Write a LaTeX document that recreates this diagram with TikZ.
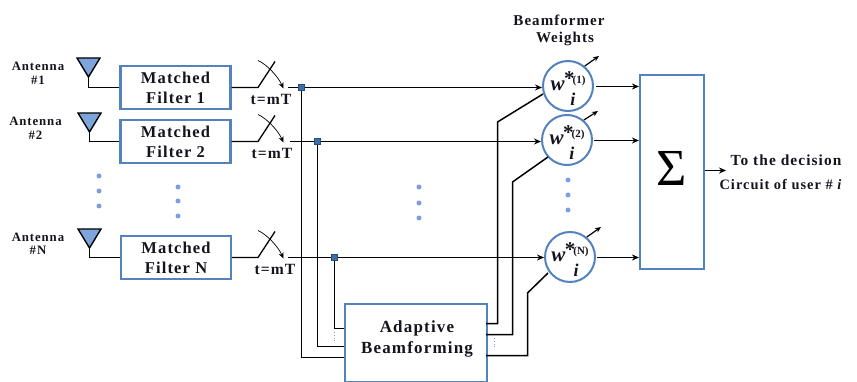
\documentclass[tikz,border=0pt]{standalone}
\usepackage{fontspec}
\setmainfont{Liberation Serif}
\newfontfamily\spaced[LetterSpace=7]{Liberation Serif}
\usetikzlibrary{arrows.meta}
\definecolor{boxblue}{RGB}{84,130,190}
\definecolor{antblue}{RGB}{125,165,220}
\definecolor{dotblue}{RGB}{125,160,220}
\definecolor{sqblue}{RGB}{60,110,170}
\definecolor{txt}{RGB}{20,20,30}
\tikzset{
  x=1pt,y=-1pt,
  wire/.style={draw=black,line width=1.5pt},
  arrowed/.style={wire,-{Stealth[length=7pt,width=6pt]}},
  thinarrow/.style={draw=black,line width=0.7pt,-{Stealth[length=6pt,width=5pt]}},
  boxnode/.style={draw=boxblue,line width=2.1pt,fill=white,minimum width=110pt,minimum height=43pt,inner sep=0pt,align=center,font=\spaced\bfseries\fontsize{16.5}{20}\selectfont,text=txt},
  weightnode/.style={circle,draw=boxblue,line width=2pt,fill=white,minimum size=50pt,inner sep=0pt,text=txt},
  sqnode/.style={rectangle,draw=sqblue!70!black,fill=sqblue,minimum size=6pt,inner sep=0pt},
  anttxt/.style={align=center,font=\spaced\bfseries\fontsize{12.8}{13.5}\selectfont,text=txt,inner sep=0pt},
  ttxt/.style={font=\spaced\bfseries\fontsize{15.6}{16}\selectfont,text=txt,inner sep=0pt},
  lbl/.style={align=center,font=\spaced\bfseries\fontsize{15}{19}\selectfont,text=txt,inner sep=0pt},
  dotmark/.style={circle,fill=dotblue,minimum size=5pt,inner sep=0pt},
  antfill/.style={draw=black,line width=1.4pt,fill=antblue,line join=miter},
}
\newcommand{\antenna}[4]{% name, x of left, y top, box
  \coordinate (#1a) at (#2,#3);
  \coordinate (#1b) at (#2+23,#3);
  \coordinate (#1c) at (#2+11.5,#3+19);
  \draw[antfill] (#1a) -- (#1b) -- (#1c) -- cycle;
  \draw[wire] (#1c) |- (#4.west);
}
\newcommand{\switchat}[3]{% name, y, source box
  \coordinate (#1in) at (258,#2);
  \coordinate (#1tip) at (275,#2-26);
  \coordinate (#1arcs) at (258,#2-27);
  \coordinate (#1arce) at (283.5,#2+1);
  \coordinate (#1c) at (267,#2-23);
  \coordinate (#1d) at (278,#2-11);
  \draw[wire,line width=1.3pt] (#3.east) -- (#1in) -- (#1tip);
  \draw[thinarrow] (#1arcs) .. controls (#1c) and (#1d) .. (#1arce);
}
\newcommand{\wsymbol}[1]{%
  \raisebox{-9.5pt}{\smash{\bfseries
    {\itshape\fontsize{21}{21}\selectfont w}\kern-0.5pt%
    \raisebox{5pt}{\fontsize{21}{21}\selectfont *}\kern-2pt%
    \raisebox{7pt}{\fontsize{11}{11}\selectfont #1}%
    \llap{\raisebox{-14.5pt}{\itshape\fontsize{18}{18}\selectfont i\kern10pt}}}}}
\newcommand{\weightsym}[4]{% name, x, y, sup
  \node[weightnode] (#1) at (#2,#3) {\wsymbol{#4}};
}
\begin{document}
\begin{tikzpicture}
\useasboundingbox (0,0) rectangle (857,382);
% matched filters
\node[boxnode] (mf1) at (175.5,87.5) {Matched\\Filter 1};
\node[boxnode] (mf2) at (175.5,141.5) {Matched\\Filter 2};
\node[boxnode] (mfn) at (176,257.5) {Matched\\Filter N};
% antennas
\antenna{ant1}{77}{58}{mf1}
\antenna{ant2}{78}{113}{mf2}
\antenna{antn}{78}{229}{mfn}
\node[anttxt] (lab1) at (38,73.5) {Antenna\\\#1};
\node[anttxt] (lab2) at (35.5,128.5) {Antenna\\\#2};
\node[anttxt] (labn) at (38,244) {Antenna\\\#N};
% switches
\switchat{sa}{87.5}{mf1}
\switchat{sb}{141.5}{mf2}
\switchat{sn}{257.5}{mfn}
\node[ttxt] (t1) at (271,99) {t=mT};
\node[ttxt] (t2) at (272,153) {t=mT};
\node[ttxt] (t3) at (275,269) {t=mT};
% adaptive
\node[boxnode,minimum width=142pt,minimum height=78pt,anchor=north west] (ab) at (344,302.5) {};
\node[lbl,font=\spaced\bfseries\fontsize{17}{21}\selectfont] (abt) at (417,338.5) {Adaptive\\Beamforming};
% weights
\weightsym{wa}{568}{86}{(1)}
\weightsym{wb}{567}{140}{(2)}
\weightsym{wn}{570}{257}{(N)}
% summation
\node[draw=boxblue,line width=2.1pt,fill=white,minimum width=64pt,minimum height=194pt,inner sep=0pt,font=\fontsize{52}{52}\selectfont,text=black] (sum) at (672,172) {\raisebox{7pt}{Σ}};
% junctions and signal lines
\coordinate (la) at (288,87.5);
\coordinate (lb) at (290,141.5);
\coordinate (ln) at (288,257.5);
\draw[arrowed] (la) -- (wa.west |- la);
\draw[arrowed] (lb) -- (wb.west |- lb);
\draw[arrowed] (ln) -- (wn.west |- ln);
\node[sqnode] (ja) at (301.5,87.5) {};
\node[sqnode] (jb) at (317.5,141.5) {};
\node[sqnode] (jn) at (334.5,257.5) {};
\coordinate (ea) at (344,357.5);
\coordinate (eb) at (344,346.5);
\coordinate (en) at (344,328.5);
\draw[wire] (ja) |- (ea);
\draw[wire] (jb) |- (eb);
\draw[wire] (jn) |- (en);
% feedback to weights
\coordinate (oa) at (486,323.5);
\coordinate (oa1) at (497.5,122);
\coordinate (oa2) at (543,94);
\coordinate (ob) at (486,334.5);
\coordinate (ob1) at (512.5,182);
\coordinate (ob2) at (548,157);
\coordinate (on) at (486,355.5);
\coordinate (on1) at (527.5,293);
\coordinate (on2) at (548,273);
\draw[wire] (oa) -| (oa1) -- (oa2);
\draw[wire] (ob) -| (ob1) -- (ob2);
\draw[wire] (on) -| (on1) -- (on2);
% weight adjust arrows
\coordinate (ua) at (599,56);
\coordinate (ub) at (598,111);
\coordinate (un) at (601,227);
\draw[thinarrow,line width=1.2pt] (wa.50) -- (ua);
\draw[thinarrow,line width=1.2pt] (wb.50) -- (ub);
\draw[thinarrow,line width=1.2pt] (wn.50) -- (un);
% outputs
\coordinate (ra) at (596,86.5);
\coordinate (rb) at (594,140.5);
\coordinate (rn) at (597,257.5);
\draw[arrowed] (ra) -- (sum.west |- ra);
\draw[arrowed] (rb) -- (sum.west |- rb);
\draw[arrowed] (rn) -- (sum.west |- rn);
\coordinate (outend) at (726,170.5);
\draw[arrowed] (sum.east |- outend) -- (outend);
% texts
\node[lbl] (bf) at (559,20) {Beamformer};
\node[lbl] (bw) at (565,39) {Weights};
\node[lbl,font=\spaced\bfseries\fontsize{15.4}{19}\selectfont] (dec1) at (786,160) {To the decision};
\node[lbl,font=\spaced\bfseries\fontsize{14.4}{19}\selectfont] (dec2) at (781,185) {Circuit of user \# \textit{i}};
% dots
\foreach \nm/\px/\py in {p1/99/176,p2/99/191,p3/99/206,q1/178/187,q2/178/201,q3/178/216,r1/419/187,r2/419/203,r3/419/218,s1/568/180,s2/568/195,s3/568/210}
  \node[dotmark] (\nm) at (\px,\py) {};
% tiny dotted marks
\coordinate (d1a) at (334.5,332);
\coordinate (d1b) at (334.5,342);
\coordinate (d2a) at (494,338);
\coordinate (d2b) at (494,348);
\draw[dotblue,line width=0.8pt,dotted] (d1a) -- (d1b);
\draw[dotblue,line width=0.8pt,dotted] (d2a) -- (d2b);
\end{tikzpicture}
\end{document}
